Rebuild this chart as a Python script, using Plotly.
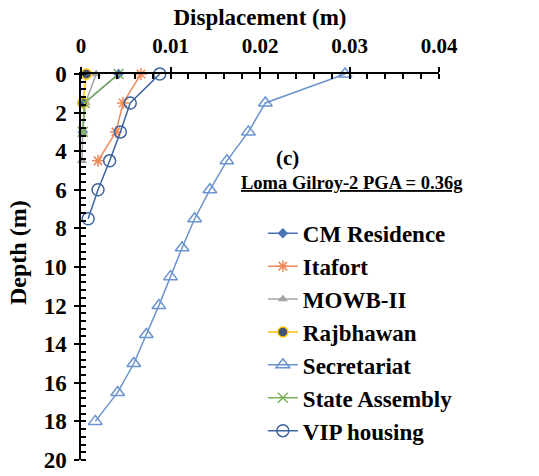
import plotly.graph_objects as go

# ---- data ----
depth_cm = [0, 1.5, 3]
disp_cm = [0.0042, 0.0004, 0.0002]

depth_itafort = [0, 1.5, 3, 4.5]
disp_itafort = [0.0067, 0.0047, 0.0039, 0.0019]

depth_mowb = [0, 1.5, 3, 4.5]
disp_mowb = [0.0017, 0.0005, 0.0002, 0.0001]

depth_raj = [0, 1.5]
disp_raj = [0.0006, 0.0002]

depth_sec = [0, 1.5, 3, 4.5, 6, 7.5, 9, 10.5, 12, 13.5, 15, 16.5, 18]
disp_sec = [0.0295, 0.0206, 0.0187, 0.0163, 0.0144, 0.0127, 0.0113, 0.0100,
            0.0087, 0.0073, 0.0059, 0.0041, 0.0016]

depth_sa = [0, 1.5, 3]
disp_sa = [0.0042, 0.0004, 0.0002]

depth_vip = [0, 1.5, 3, 4.5, 6, 7.5]
disp_vip = [0.0088, 0.0055, 0.0044, 0.0032, 0.0019, 0.0008]

x_ticks = [0, 0.01, 0.02, 0.03, 0.04]
x_ticklabels = ["0", "0.01", "0.02", "0.03", "0.04"]
y_ticks = list(range(0, 21, 2))

FONT = "Liberation Serif"

series = [
    ("CM Residence", depth_cm, disp_cm, "#4A73B5",
     dict(symbol="diamond", size=8, color="#4A73B5")),
    ("Itafort", depth_itafort, disp_itafort, "#EE8A5A",
     dict(symbol="asterisk-open", size=10, color="#EE8A5A", line=dict(width=1.5, color="#EE8A5A"))),
    ("MOWB-II", depth_mowb, disp_mowb, "#A5A5A5",
     dict(symbol="triangle-up", size=9, color="#A5A5A5")),
    ("Rajbhawan", depth_raj, disp_raj, "#FFC000",
     dict(symbol="circle", size=10, color="#3E5377", line=dict(width=1.5, color="#FFC000"))),
    ("Secretariat", depth_sec, disp_sec, "#6A93CF",
     dict(symbol="triangle-up-open", size=12, color="#6A93CF", line=dict(width=1.5))),
    ("State Assembly", depth_sa, disp_sa, "#7DB05A",
     dict(symbol="x-thin-open", size=10, color="#7DB05A", line=dict(width=1.5, color="#7DB05A"))),
    ("VIP housing", depth_vip, disp_vip, "#3D64A0",
     dict(symbol="circle-open", size=12, color="#3D64A0", line=dict(width=1.5))),
]

fig = go.Figure()
for i, (name, d, x, col, mk) in enumerate(series):
    fig.add_trace(go.Scatter(
        x=x, y=d, name=name, mode="lines+markers",
        line=dict(color=col, width=1.5), marker=mk,
        legendgroup=f"g{i}", cliponaxis=False,
    ))

fig.update_layout(
    width=539, height=476,
    margin=dict(l=81, r=100, t=74, b=16, autoexpand=False),
    paper_bgcolor="white", plot_bgcolor="white",
    font=dict(family=FONT, size=21, color="black"),
    showlegend=True,
    legend=dict(
        x=0.508, y=0.643, xanchor="left", yanchor="top",
        font=dict(family=FONT, size=23, color="black", weight="bold"),
        tracegroupgap=0, bgcolor="rgba(0,0,0,0)",
    ),
    xaxis=dict(
        side="top", range=[0, 0.04], tickvals=x_ticks, ticktext=x_ticklabels,
        automargin=False,
        showgrid=False, zeroline=False, showline=True, linecolor="black", linewidth=1.5,
        ticks="outside", ticklen=5, tickcolor="black", tickwidth=1.5,
        minor=dict(dtick=0.002, ticks="inside", ticklen=5, tickcolor="black", showgrid=False),
        tickfont=dict(family=FONT, size=21, weight="bold"),
        ticklabelstandoff=6,
        title=dict(text="<b>Displacement (m)</b>", font=dict(family=FONT, size=23), standoff=2),
    ),
    yaxis=dict(
        range=[20, 0], tickvals=y_ticks,
        automargin=False,
        showgrid=False, zeroline=False, showline=True, linecolor="black", linewidth=1.5,
        ticks="outside", ticklen=5, tickcolor="black", tickwidth=1.5,
        minor=dict(dtick=0.4, ticks="inside", ticklen=5, tickcolor="black", showgrid=False),
        tickfont=dict(family=FONT, size=23, weight="bold"),
        ticklabelstandoff=3,
    ),
)

fig.add_annotation(text="<b>Depth (m)</b>", xref="paper", yref="paper",
                   x=(18 - 81) / 358, y=1 - (253 - 74) / 386, showarrow=False,
                   textangle=-90, xanchor="center", yanchor="middle",
                   font=dict(family=FONT, size=24))
fig.add_annotation(text="<b>(c)</b>", xref="paper", yref="paper",
                   x=(287 - 81) / 358, y=1 - (158 - 74) / 386, showarrow=False,
                   xanchor="center", yanchor="middle",
                   font=dict(family=FONT, size=21))
fig.add_annotation(text="<b><u>Loma Gilroy-2 PGA = 0.36g</u></b>", xref="paper", yref="paper",
                   x=(352 - 81) / 358, y=1 - (183 - 74) / 386, showarrow=False,
                   xanchor="center", yanchor="middle",
                   font=dict(family=FONT, size=18.5))

fig.write_html("out.html")
